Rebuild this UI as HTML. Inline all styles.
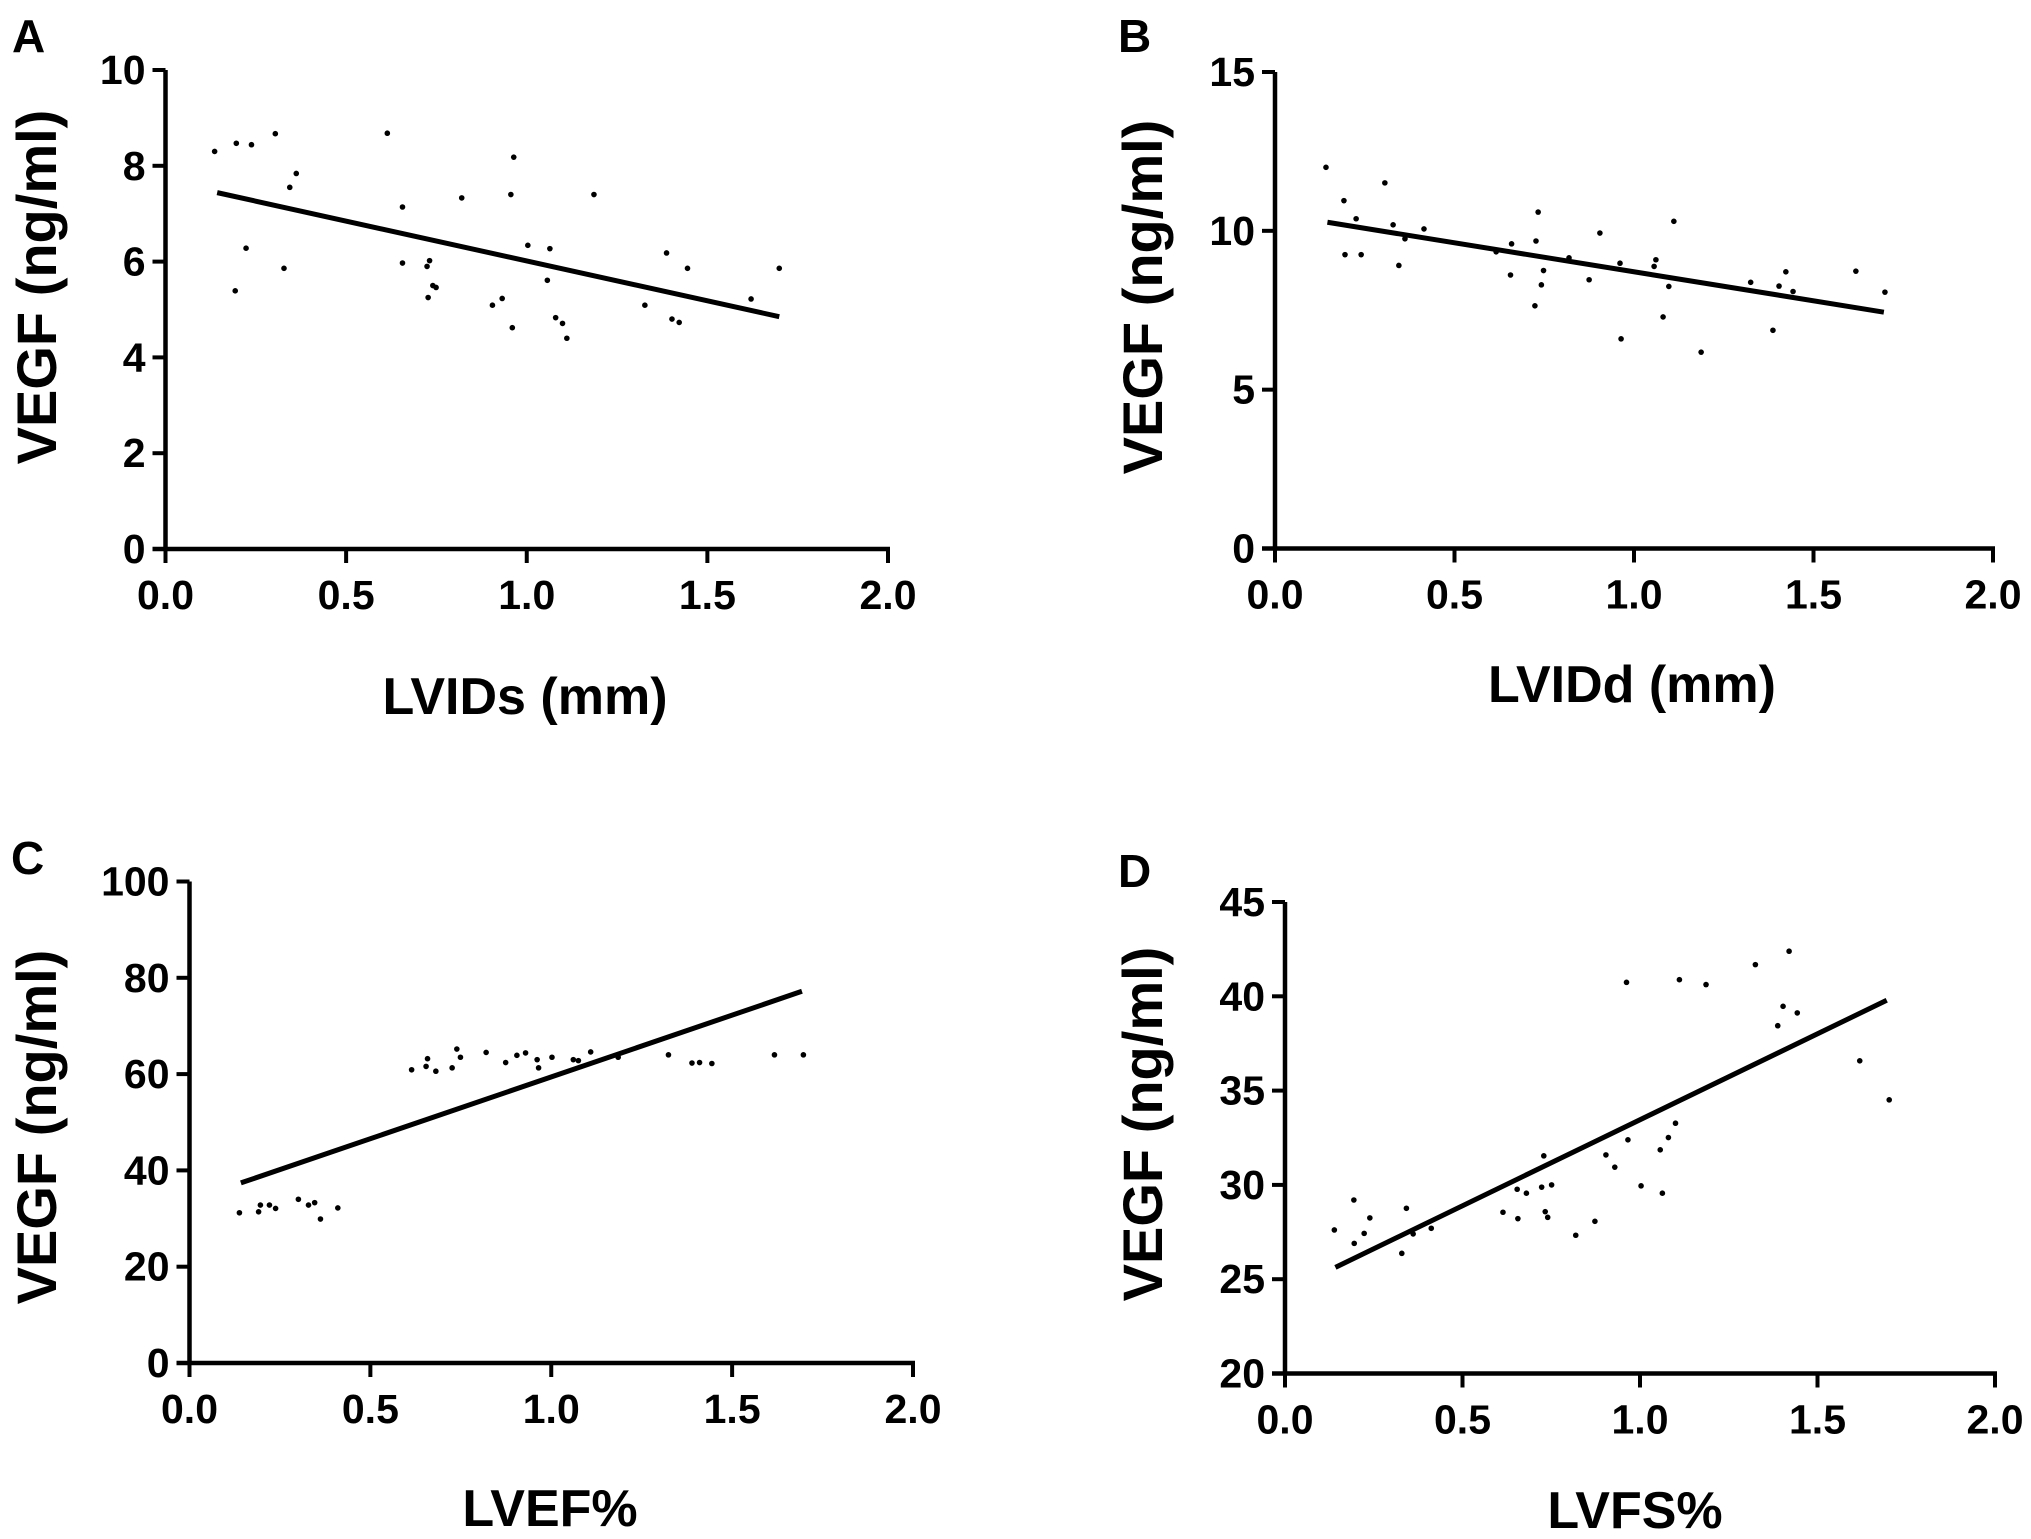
<!DOCTYPE html>
<html><head><meta charset="utf-8">
<style>
html,body{margin:0;padding:0;background:#fff;}
svg{display:block;}
text{font-family:"Liberation Sans",Arial,sans-serif;font-weight:bold;fill:#000;}
</style></head>
<body>
<svg id="fig" width="2031" height="1539" viewBox="0 0 2031 1539" xmlns="http://www.w3.org/2000/svg"></svg>
<script>
// Panel A data
const aX=[0.136,0.196,0.238,0.304,0.614,0.964,0.362,0.344,0.956,1.186,0.820,0.656,0.223,1.003,1.064,1.387,0.656,0.731,0.724,0.328,1.445,1.699,1.057,0.740,0.749,0.193,0.727,0.932,0.905,1.327,1.621,1.080,1.099,1.402,1.422,0.960,1.111];
const aY=[8.30,8.47,8.44,8.67,8.68,8.18,7.84,7.55,7.40,7.40,7.33,7.14,6.28,6.34,6.27,6.18,5.97,6.02,5.90,5.86,5.86,5.86,5.61,5.50,5.46,5.39,5.25,5.23,5.09,5.09,5.22,4.83,4.71,4.80,4.73,4.62,4.40];
const aLineX=[0.143,1.699];
const aLineY=[7.44,4.85];
const aYTicks=[0,2,4,6,8,10];
// Panel B data
const bX=[0.142,0.306,0.192,0.733,1.111,0.226,0.329,0.415,0.905,0.362,0.727,0.659,0.616,0.195,0.240,0.819,1.061,0.961,0.345,1.056,0.748,1.423,1.618,0.656,0.875,1.325,0.742,1.097,1.404,1.443,1.699,0.724,1.081,1.387,0.964,1.187];
const bY=[12.0,11.51,10.95,10.59,10.30,10.38,10.19,10.06,9.93,9.75,9.68,9.59,9.34,9.25,9.25,9.15,9.09,8.98,8.91,8.88,8.75,8.71,8.73,8.61,8.46,8.38,8.30,8.25,8.26,8.09,8.07,7.64,7.29,6.87,6.60,6.18];
const bLineX=[0.146,1.696];
const bLineY=[10.27,7.44];
const bYTicks=[0,5,10,15];
// Panel C data
const cX=[0.138,0.191,0.196,0.221,0.238,0.301,0.329,0.346,0.362,0.410,0.614,0.654,0.658,0.681,0.726,0.739,0.749,0.820,0.874,0.905,0.929,0.961,0.965,1.002,1.061,1.075,1.109,1.185,1.324,1.389,1.410,1.444,1.617,1.697];
const cY=[31.2,31.4,32.8,32.8,32.1,34.0,32.8,33.3,29.9,32.2,60.9,61.6,63.2,60.6,61.3,65.2,63.5,64.5,62.4,63.9,64.4,63.0,61.3,63.5,63.0,62.8,64.6,63.5,64.0,62.3,62.4,62.2,64.0,64.0];
const cLineX=[0.142,1.693];
const cLineY=[37.4,77.2];
const cYTicks=[0,20,40,60,80,100];
// Panel D data
const dX=[0.139,0.194,0.195,0.223,0.239,0.329,0.342,0.361,0.412,0.614,0.656,0.654,0.680,0.723,0.751,0.729,0.733,0.740,0.819,0.873,0.904,0.929,0.962,0.966,1.003,1.057,1.063,1.080,1.100,1.111,1.186,1.325,1.388,1.403,1.420,1.443,1.619,1.702];
const dY=[27.61,29.20,26.90,27.43,28.25,26.37,28.76,27.40,27.70,28.55,28.21,29.77,29.56,29.88,30.00,31.54,28.58,28.28,27.33,28.07,31.59,30.94,40.74,32.39,29.95,31.86,29.56,32.51,33.27,40.88,40.62,41.68,38.44,39.47,42.39,39.12,36.58,34.51];
const dLineX=[0.142,1.695];
const dLineY=[25.63,39.79];
const dYTicks=[20,25,30,35,40,45];
const xTickLabels=["0.0","0.5","1.0","1.5","2.0"];
const xTickVals=[0,0.5,1,1.5,2];

const NS="http://www.w3.org/2000/svg";
const svg=document.getElementById('fig');
function mk(tag,attrs,parent){const e=document.createElementNS(NS,tag);for(const k in attrs)e.setAttribute(k,attrs[k]);(parent||svg).appendChild(e);return e;}

function panel(cfg){
  const g=mk('g',{});
  
  
  const ymin=cfg.yt[0],ymax=cfg.yt[cfg.yt.length-1];
  const sx=v=>cfg.x0+(v-0)/2*(cfg.x1-cfg.x0);
  const sy=v=>cfg.y0+(v-ymin)/(ymax-ymin)*(cfg.y1-cfg.y0);
  const ya=mk('line',{x1:cfg.x0,y1:cfg.y0+2,x2:cfg.x0,y2:cfg.y1,stroke:'#000','stroke-width':4.5},g);
  
  
  const xa=mk('line',{x1:cfg.x0-13,y1:cfg.y0,x2:cfg.x1+2,y2:cfg.y0,stroke:'#000','stroke-width':4.5},g);
  
  
  cfg.yt.forEach(v=>{
    const y=sy(v);
    mk('line',{x1:cfg.x0-13,y1:y,x2:cfg.x0,y2:y,stroke:'#000','stroke-width':4},g);
    const t=mk('text',{x:cfg.x0-20,y:y+14,'text-anchor':'end','font-size':41},g);
    t.textContent=String(v);
    
    
  });
  xTickVals.forEach((v,i)=>{
    const x=sx(v);
    mk('line',{x1:x,y1:cfg.y0,x2:x,y2:cfg.y0+14,stroke:'#000','stroke-width':4},g);
    const t=mk('text',{x:x,y:cfg.y0+60,'text-anchor':'middle','font-size':41},g);
    t.textContent=xTickLabels[i];
    
    
  });
  cfg.xs.forEach((v,i)=>{
    const c=mk('circle',{cx:sx(v),cy:sy(cfg.ys[i]),r:2.8,fill:'#000'},g);
    
    
  });
  const ln=mk('line',{x1:sx(cfg.lx[0]),y1:sy(cfg.ly[0]),x2:sx(cfg.lx[1]),y2:sy(cfg.ly[1]),stroke:'#000','stroke-width':5},g);
  
  
  const xt=mk('text',{x:cfg.xtx,y:cfg.xty,'text-anchor':'middle','font-size':52},g);
  xt.textContent=cfg.xtitle;
  
  
  const yt=mk('text',{x:0,y:0,'text-anchor':'middle','font-size':56,transform:'translate('+cfg.ytx+','+cfg.yty+') rotate(-90)'},g);
  yt.textContent='VEGF (ng/ml)';
  
  
  const lt=mk('text',{x:cfg.lbx,y:cfg.lby,'font-size':46},g);
  lt.textContent=cfg.id;
  
  
}

panel({id:'A',x0:165.5,x1:888,y0:549,y1:70,yt:aYTicks,xs:aX,ys:aY,lx:aLineX,ly:aLineY,xtitle:'LVIDs (mm)',xtx:525,xty:714,ytx:56,yty:287,lbx:12,lby:52});
panel({id:'B',x0:1275,x1:1993,y0:548.5,y1:72,yt:bYTicks,xs:bX,ys:bY,lx:bLineX,ly:bLineY,xtitle:'LVIDd (mm)',xtx:1632,xty:702,ytx:1162,yty:297,lbx:1118,lby:52});
panel({id:'C',x0:189.5,x1:913,y0:1363,y1:881.5,yt:cYTicks,xs:cX,ys:cY,lx:cLineX,ly:cLineY,xtitle:'LVEF%',xtx:550,xty:1526,ytx:56,yty:1127,lbx:11,lby:874});
panel({id:'D',x0:1285,x1:1995,y0:1373.5,y1:902,yt:dYTicks,xs:dX,ys:dY,lx:dLineX,ly:dLineY,xtitle:'LVFS%',xtx:1635,xty:1528,ytx:1162,yty:1124,lbx:1118,lby:887});
</script>
</body></html>
